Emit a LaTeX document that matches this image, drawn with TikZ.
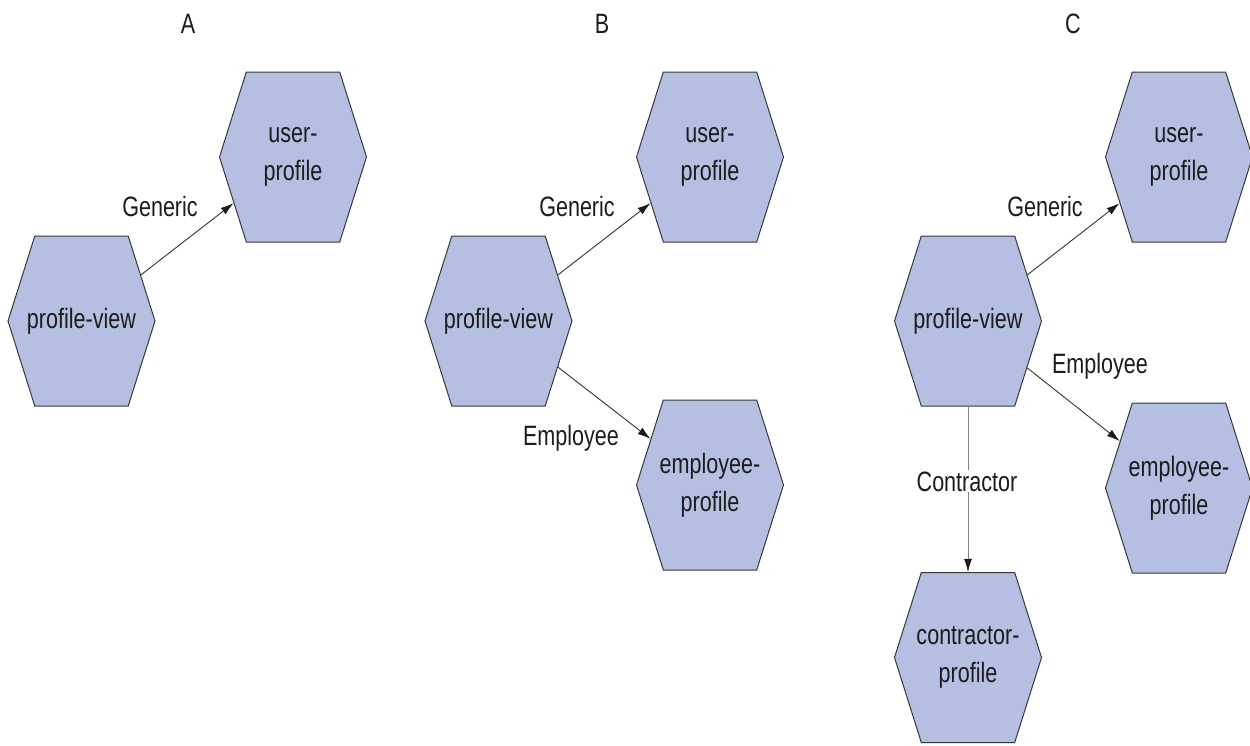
\documentclass[tikz,border=0pt]{standalone}
\usepackage{fontspec}
\setmainfont{Liberation Sans}[FakeStretch=0.77]
\usetikzlibrary{shapes.symbols,arrows.meta}
\definecolor{hexfill}{RGB}{181,191,226}
\definecolor{hexline}{RGB}{55,55,62}
\definecolor{ink}{RGB}{28,28,28}
% centred line of zero width, so the hexagon size never depends on its text
\newcommand{\hx}[1]{\makebox[0pt]{#1}}
\begin{document}
\begin{tikzpicture}[x=1pt,y=-1pt,
  hexnode/.style={signal, signal to=east and west, signal from=nowhere,
    signal pointer angle=145, draw=hexline, fill=hexfill, line width=1pt,
    minimum width=147pt, minimum height=170pt, inner sep=0pt,
    align=center, text=ink, font=\fontsize{28}{38}\selectfont},
  lbl/.style={anchor=base, text=ink, inner sep=1pt,
    font=\fontsize{28}{34}\selectfont},
  link/.style={draw=ink!90, line width=0.9pt,
    -{Latex[length=13pt,width=8pt,color=ink]}},
]
\useasboundingbox (0,0) rectangle (1250,745);

% column titles
\node[lbl] (tA) at (188,33) {A};
\node[lbl] (tB) at (602,33) {B};
\node[lbl] (tC) at (1073,33) {C};

% A
\node[hexnode] (pvA) at (81.5,321) {\hx{profile-view}};
\node[hexnode] (upA) at (293,157) {\hx{user-}\\\hx{profile}};
\draw[link] (pvA) -- (upA);
\node[lbl] (gA) at (160,216) {Generic};

% B
\node[hexnode] (pvB) at (498.5,321) {\hx{profile-view}};
\node[hexnode] (upB) at (710,157) {\hx{user-}\\\hx{profile}};
\node[hexnode] (epB) at (710,485) {\hx{employee-}\\\hx{profile}};
\draw[link] (pvB) -- (upB);
\draw[link] (pvB) -- (epB);
\node[lbl] (gB) at (577,216) {Generic};
\node[lbl] (eB) at (571,445) {Employee};

% C
\node[hexnode] (pvC) at (968,321) {\hx{profile-view}};
\node[hexnode] (upC) at (1179,157) {\hx{user-}\\\hx{profile}};
\node[hexnode] (epC) at (1179,488) {\hx{employee-}\\\hx{profile}};
\node[hexnode] (cpC) at (968,657.5) {\hx{contractor-}\\\hx{profile}};
\draw[link] (pvC) -- (upC);
\draw[link] (pvC) -- (epC);
\draw[link, draw=ink!55] (pvC) -- (cpC);
\node[lbl] (gC) at (1045,216) {Generic};
\node[lbl] (eC) at (1100,373) {Employee};
\node[lbl, fill=white] (kC) at (967,491) {Contractor};
\end{tikzpicture}
\end{document}
